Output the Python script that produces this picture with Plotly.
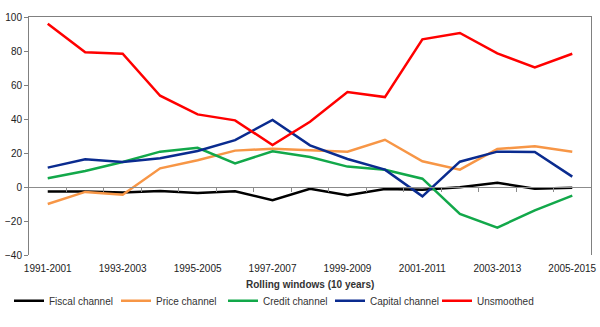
import plotly.graph_objects as go

windows = ["1991-2001", "1992-2002", "1993-2003", "1994-2004", "1995-2005",
           "1996-2006", "1997-2007", "1998-2008", "1999-2009", "2000-2010",
           "2001-2011", "2002-2012", "2003-2013", "2004-2014", "2005-2015"]
tick_labels = windows[::2]

fiscal = [-2.7, -2.7, -3.3, -2.4, -3.5, -2.5, -7.8, -1.0, -4.9, -1.2, -1.6, -0.2, 2.5, -1.0, -0.4]
price = [-10.0, -2.9, -4.5, 11.0, 15.7, 21.4, 22.5, 21.6, 20.8, 27.8, 15.1, 10.2, 22.4, 23.9, 20.8]
credit = [5.1, 9.4, 14.7, 20.8, 23.1, 13.9, 21.0, 17.6, 12.0, 10.2, 4.9, -15.9, -23.9, -13.7, -5.1]
capital = [11.4, 16.3, 14.7, 16.9, 21.2, 27.6, 39.4, 24.5, 16.5, 10.2, -5.5, 14.9, 20.8, 20.6, 6.1]
unsmoothed = [96.0, 79.2, 78.4, 53.7, 42.7, 39.2, 24.7, 38.4, 55.9, 52.9, 86.9, 90.6, 78.6, 70.4, 78.4]

series = [
    ("Fiscal channel", fiscal, "#000000"),
    ("Price channel", price, "#F79646"),
    ("Credit channel", credit, "#12A84A"),
    ("Capital channel", capital, "#0A2B8F"),
    ("Unsmoothed", unsmoothed, "#FF0000"),
]

fig = go.Figure()
# empty helper traces so the overlay axes (zero line with ticks, top border) get drawn
fig.add_trace(go.Scatter(x=[], y=[], xaxis="x2", showlegend=False, hoverinfo="skip"))
fig.add_trace(go.Scatter(x=[], y=[], xaxis="x3", showlegend=False, hoverinfo="skip"))
for name, vals, col in series:
    fig.add_trace(go.Scatter(x=windows, y=vals, name=name, mode="lines",
                             line=dict(color=col, width=2.5)))

font = dict(family="Liberation Sans, Arial, sans-serif", size=10, color="#222222")
y_min, y_max = -40, 100
n = len(windows)

fig.update_layout(
    width=600, height=327,
    margin=dict(l=29, r=9, t=17, b=72, autoexpand=False),
    paper_bgcolor="white", plot_bgcolor="white",
    font=font,
    showlegend=True,
    legend=dict(orientation="h", xref="container", yref="container",
                x=0.015, y=0.08, xanchor="left", yanchor="middle",
                itemwidth=30, entrywidth=62, entrywidthmode="pixels",
                font=dict(family="Liberation Sans, Arial, sans-serif",
                          size=10, color="#333333"),
                tracegroupgap=0),
    xaxis=dict(type="category", categoryorder="array", categoryarray=windows,
               range=[-0.5, n - 0.5], tickmode="array", tickvals=tick_labels,
               ticktext=tick_labels, ticks="outside", ticklen=4,
               tickcolor="rgba(0,0,0,0)", showline=False, showgrid=False,
               zeroline=False),
    xaxis2=dict(overlaying="x", anchor="free",
                position=(0 - y_min) / (y_max - y_min),
                range=[-0.5, n - 0.5], tickmode="array",
                tickvals=[i + 0.5 for i in range(n - 1)],
                ticks="outside", ticklen=4, tickcolor="#8c8c8c",
                showticklabels=False, showline=True, linecolor="#8c8c8c",
                linewidth=1, showgrid=False, zeroline=False),
    xaxis3=dict(overlaying="x", side="top", range=[-0.5, n - 0.5],
                showticklabels=False, ticks="", showline=True,
                linecolor="#808080", linewidth=1, showgrid=False, zeroline=False),
    yaxis=dict(range=[y_min, y_max], dtick=20, tick0=0, ticks="outside",
               ticklen=4, tickcolor="#808080", showline=True, mirror=True,
               linecolor="#808080", linewidth=1, showgrid=False,
               zeroline=False),
    annotations=[dict(text="<b>Rolling windows (10 years)</b>", xref="paper",
                      yref="paper", x=0.5, y=-0.122, xanchor="center",
                      yanchor="middle", showarrow=False,
                      font=dict(family="Liberation Sans, Arial, sans-serif",
                                size=10, color="#333333"))],
)

fig.write_html("out.html")
